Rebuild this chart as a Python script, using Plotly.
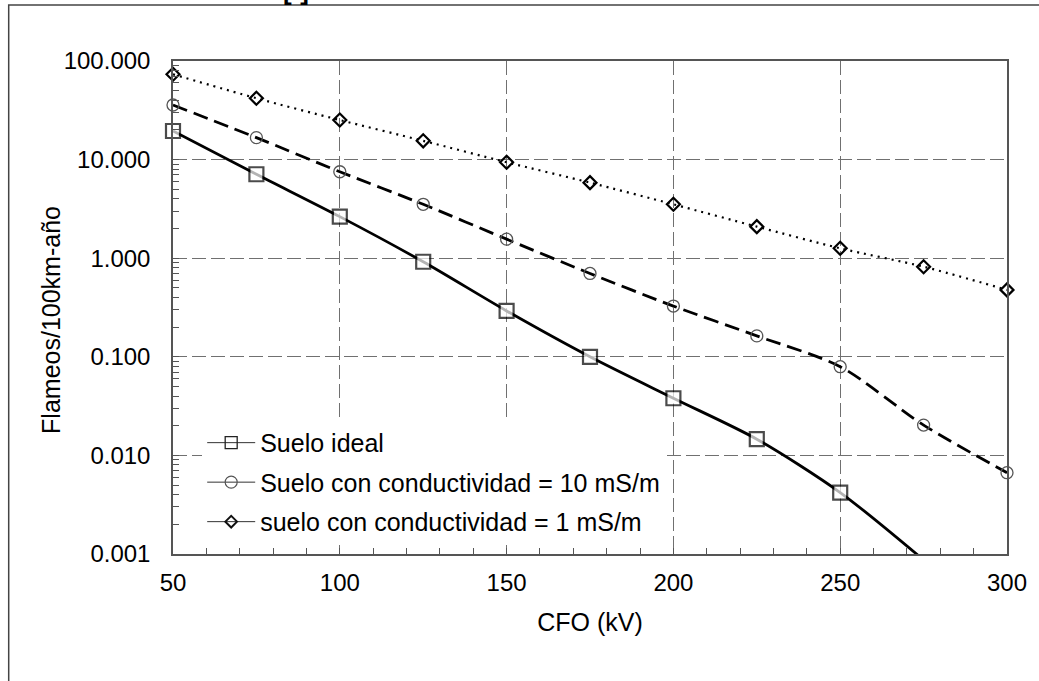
import plotly.graph_objects as go

# ---- data ----
cfo_kv = [50, 75, 100, 125, 150, 175, 200, 225, 250, 275, 300]
suelo_ideal = [19.5, 7.1, 2.64, 0.92, 0.292, 0.100, 0.038, 0.0146, 0.0042, 0.00087]
cond_10 = [35.8, 16.7, 7.53, 3.52, 1.56, 0.70, 0.327, 0.163, 0.0794, 0.0203, 0.00668]
cond_1 = [73.3, 41.9, 25.2, 15.5, 9.4, 5.84, 3.52, 2.09, 1.26, 0.82, 0.477]

names = ["Suelo ideal",
         "Suelo con conductividad = 10 mS/m",
         "suelo con conductividad = 1 mS/m"]
y_tickvals = [0.001, 0.01, 0.1, 1, 10, 100]
y_ticktext = ["0.001", "0.010", "0.100", "1.000", "10.000", "100.000"]
x_tickvals = [50, 100, 150, 200, 250, 300]

FONT = "Arial, Liberation Sans, sans-serif"

fig = go.Figure()

# data traces
fig.add_trace(go.Scatter(
    x=cfo_kv[:len(suelo_ideal)], y=suelo_ideal, mode="lines+markers",
    line=dict(color="black", width=2.8, shape="spline", smoothing=0.8),
    marker=dict(symbol="square", size=[14] * (len(suelo_ideal) - 1) + [0],
                color="white", line=dict(color="black", width=2.2)),
    cliponaxis=False, showlegend=False))
fig.add_trace(go.Scatter(
    x=cfo_kv, y=cond_10, mode="lines+markers",
    line=dict(color="black", width=2.8, dash="15px,7px", shape="spline", smoothing=0.8),
    marker=dict(symbol="circle-open", size=12, color="#555555", line=dict(width=1.3)),
    cliponaxis=False, showlegend=False))
fig.add_trace(go.Scatter(
    x=cfo_kv, y=cond_1, mode="lines+markers",
    line=dict(color="black", width=2.2, dash="2px,5px", shape="spline", smoothing=0.8),
    marker=dict(symbol="diamond-open", size=10, color="black", line=dict(width=2.2)),
    cliponaxis=False, showlegend=False))

# legend entries (thin solid line + marker, as in the reference legend)
leg_markers = [dict(symbol="square-open", size=12, color="#222222", line=dict(width=1.3)),
               dict(symbol="circle-open", size=12, color="#555555", line=dict(width=1.2)),
               dict(symbol="diamond-open", size=9, color="#111111", line=dict(width=2))]
for i, (nm, mk) in enumerate(zip(names, leg_markers)):
    fig.add_trace(go.Scatter(x=[None], y=[None], mode="lines+markers", name=nm,
                             line=dict(color="#333333", width=1), marker=mk,
                             legendgroup=f"g{i}"))

grid = dict(showgrid=True, gridcolor="#707070", gridwidth=1.4, griddash="14px,5px")

fig.update_xaxes(
    range=[50, 300], tickvals=x_tickvals, ticks="inside", ticklen=6, tickcolor="#555555",
    minor=dict(ticks="inside", ticklen=6, dtick=10, tickcolor="#555555", showgrid=False),
    showline=True, linecolor="#555555", linewidth=1.5, mirror=True, zeroline=False,
    tickfont=dict(family=FONT, size=24, color="black"), ticklabelstandoff=6,
    title=dict(text="CFO (kV)", font=dict(family=FONT, size=25, color="black"), standoff=19),
    **grid)
fig.update_yaxes(
    type="log", range=[-3, 2], tickvals=y_tickvals, ticktext=y_ticktext,
    ticks="inside", ticklen=6, tickcolor="#555555",
    minor=dict(ticks="inside", ticklen=6, dtick="D1", tickcolor="#555555", showgrid=False),
    showline=True, linecolor="#555555", linewidth=1.5, mirror=True,
    tickfont=dict(family=FONT, size=24, color="black"), ticklabelstandoff=16,
    **grid)

# y-axis title placed where the reference has it
fig.add_annotation(text="Flameos/100km-año", xref="paper", yref="paper",
                   x=-0.1464, y=0.4746, xanchor="center", yanchor="middle",
                   textangle=-90, showarrow=False,
                   font=dict(family=FONT, size=25, color="black"))

# outer frame of the original figure
fig.add_shape(type="rect", xref="paper", yref="paper", x0=-0.197, x1=1.2, y0=-0.5, y1=1.1136,
              line=dict(color="#444444", width=1.5), layer="below")

fig.add_annotation(text="<b>[-]</b>", xref="paper", yref="paper", x=0.148, y=1.1075,
                   xanchor="center", yanchor="bottom", showarrow=False,
                   font=dict(family=FONT, size=26, color="black"))

fig.update_layout(
    width=1039, height=681,
    margin=dict(l=173, r=28, t=61, b=127),
    paper_bgcolor="white", plot_bgcolor="white",
    font=dict(family=FONT, color="black"),
    legend=dict(x=0.035, y=0.272, xanchor="left", yanchor="top",
                bgcolor="white", borderwidth=0,
                font=dict(family=FONT, size=25, color="black"),
                tracegroupgap=4, traceorder="grouped", itemwidth=48),
)

fig.write_html("out.html", config={"displayModeBar": False},
               post_script="document.body.style.margin='0';")
